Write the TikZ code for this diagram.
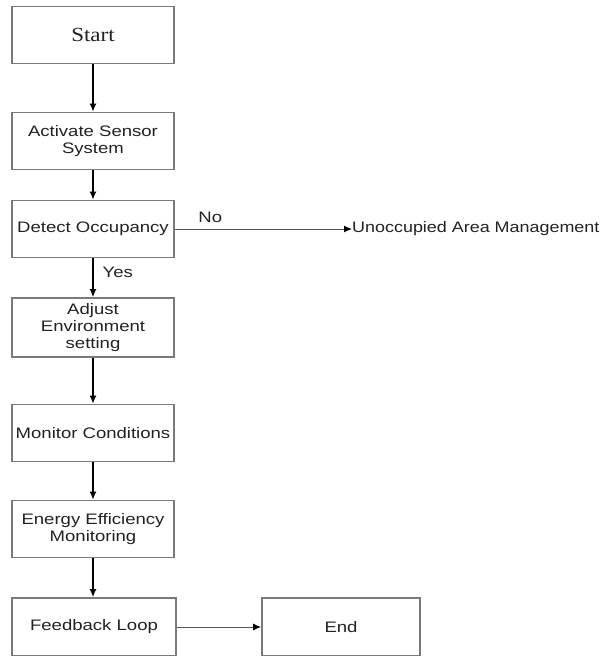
\documentclass[tikz,border=0pt]{standalone}
\usepackage{fontspec}
\usepackage{xcolor}
\usepackage{tikz}
\usetikzlibrary{positioning,arrows.meta}
\newfontfamily\boxfont[FakeStretch=1.22]{Liberation Sans}
\newfontfamily\sidefont[FakeStretch=1.18]{Liberation Sans}
\newfontfamily\startfont[FakeStretch=1.15]{Liberation Serif}
\definecolor{boxgray}{HTML}{7A7A7A}
\definecolor{inkgray}{HTML}{222222}

\begin{document}
\begin{tikzpicture}[x=1pt,y=1pt]
\tikzstyle{every node}+=[inner sep=0pt,text=inkgray]
\tikzstyle{stepbox}=[draw=boxgray,line width=1.8pt,minimum width=162pt,minimum height=57pt,align=center,font=\boxfont\fontsize{15.2}{17}\selectfont]
\tikzstyle{flow}=[draw=black,line width=1.3pt,-{Latex[length=8pt,width=7pt]}]
\tikzstyle{thin}=[draw=boxgray!70!black,line width=1pt,-{Latex[length=8pt,width=7pt,color=black]}]
\tikzstyle{lbl}=[font=\boxfont\fontsize{15.2}{17}\selectfont]
\useasboundingbox (0,0) rectangle (607,-656);
\node [stepbox,font=\startfont\fontsize{20}{22}\selectfont] (start) at (93,-35) {Start};
\node [stepbox] (sensor) at (93,-141) {Activate Sensor\\System};
\node [stepbox] (detect) at (93,-229) {Detect Occupancy};
\node [stepbox,minimum height=59pt] (adjust) at (93,-327.5) {Adjust\\Environment\\setting};
\node [stepbox] (monitor) at (93,-433) {Monitor Conditions};
\node [stepbox] (energy) at (93,-529) {Energy Efficiency\\Monitoring};
\node [stepbox,minimum width=164pt,minimum height=58pt] (feedback) at (94,-627) {Feedback Loop};
\node [stepbox,minimum width=158pt,minimum height=58pt] (stop) at (341,-627) {End};
\node [lbl,font=\sidefont\fontsize{15.2}{17}\selectfont,anchor=west] (unocc) at (352,-229) {Unoccupied Area Management};
\draw [flow] (start) -- (sensor);
\draw [flow] (sensor) -- (detect);
\draw [flow] (detect) -- node [lbl,right=9pt,pos=0.35] (yes) {Yes} (adjust);
\draw [flow] (adjust) -- (monitor);
\draw [flow] (monitor) -- (energy);
\draw [flow] (energy) -- (feedback.north -| energy);
\draw [thin] (detect) -- node [lbl,above=6pt,pos=0.2] (no) {No} (unocc);
\draw [thin] (feedback) -- (stop);
\end{tikzpicture}
\end{document}
